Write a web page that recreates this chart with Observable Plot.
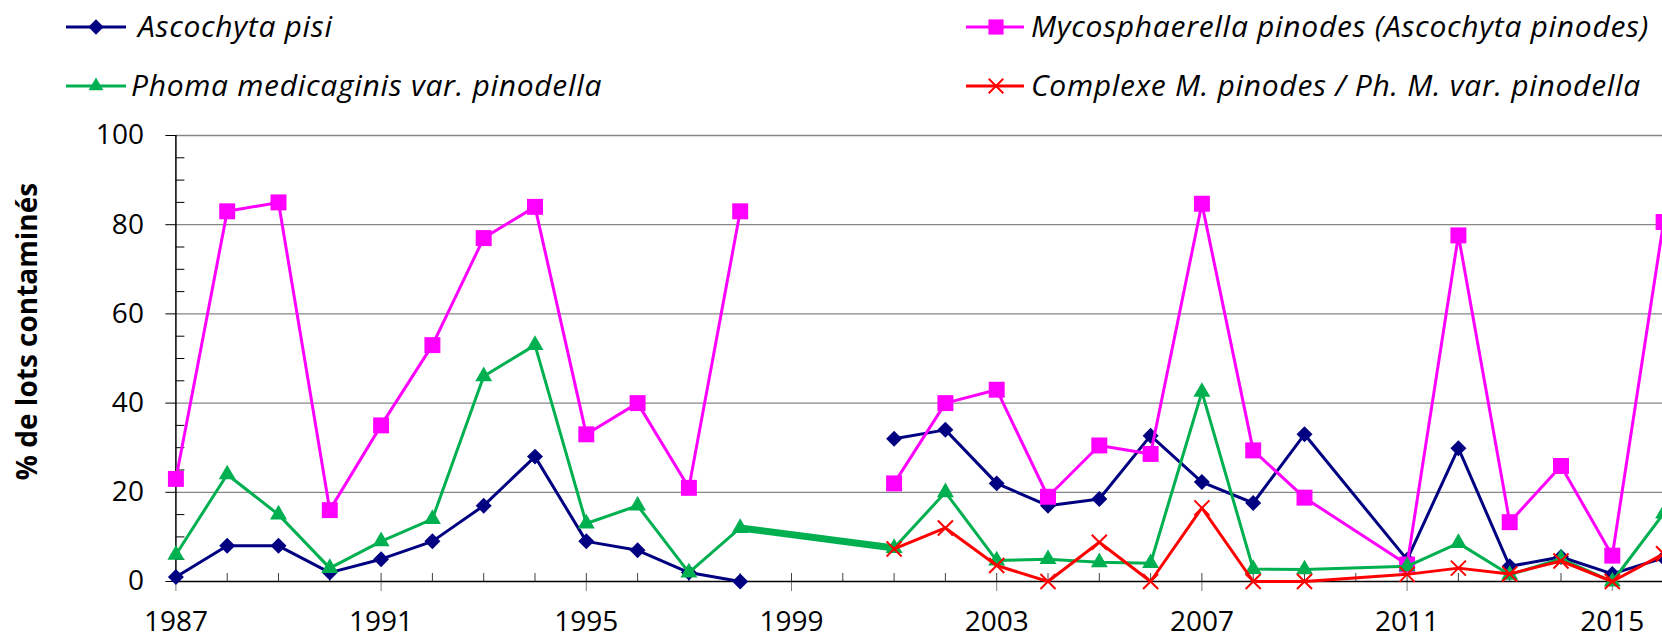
<!DOCTYPE html>
<html><head><meta charset="utf-8">
<script src="https://cdn.jsdelivr.net/npm/d3@7"></script>
<script src="https://cdn.jsdelivr.net/npm/@observablehq/plot@0.6"></script>
<style>
html,body{margin:0;padding:0;background:#fff;overflow:hidden;width:1662px;height:639px}
#legend svg,#chart svg{display:block}
#chart svg{max-width:none !important}
</style></head><body>
<div id="legend"></div><div id="chart"></div>
<script>
// ---- data ----
const years = [1987,1988,1989,1990,1991,1992,1993,1994,1995,1996,1997,1998,1999,2000,2001,2002,2003,2004,2005,2006,2007,2008,2009,2011,2012,2013,2014,2015,2016];
const ascochytaPisi =   [1,8,8,2,5,9,17,28,9,7,2,0,null,null,32,34,22,17,18.5,32.7,22.3,17.6,33,4.9,29.9,3.4,5.5,1.7,5.3];
const mycosphaerella =  [23,83,85,16,35,53,77,84,33,40,21,83,null,null,22,40,43,19,30.5,28.6,84.7,29.4,18.8,3.8,77.6,13.3,25.9,5.8,80.6];
const phoma =           [6,24,15,3,9,14,46,53,13,17,2,12,null,null,7.5,20,4.7,5,4.3,4.1,42.5,2.8,2.7,3.4,8.6,1.5,5.1,0,15.2];
const complexe =        [null,null,null,null,null,null,null,null,null,null,null,null,null,null,7.3,12,3.6,0,8.8,0,16.5,0,0,1.6,3,1.7,4.6,0,6.2];
const bridgeYears = [1998, 2001]; // green series drawn as a thick segment across the missing years
const seriesNames = ["Ascochyta pisi", "Mycosphaerella pinodes (Ascochyta pinodes)", "Phoma medicaginis var. pinodella", "Complexe M. pinodes / Ph. M. var. pinodella"];
const seriesColors = ["#000080", "#FF00FF", "#00B050", "#FF0000"];
const yTicks = [0, 20, 40, 60, 80, 100];
const yMinorTicks = [5,10,15,25,30,35,45,50,55,65,70,75,85,90,95];
const xTickLabels = [1987, 1991, 1995, 1999, 2003, 2007, 2011, 2015];
const xAllTicks = d3.range(1987, 2017);
const yTitle = "% de lots contaminés";

const toRows = (name, values) => years.map((year, i) => ({year, value: values[i], series: name}));
const blue = toRows(seriesNames[0], ascochytaPisi);
const pink = toRows(seriesNames[1], mycosphaerella);
const green = toRows(seriesNames[2], phoma);
const red = toRows(seriesNames[3], complexe);
const greenBridge = green.filter(d => bridgeYears.includes(d.year));

const FONT = "'Open Sans', sans-serif";

// ---- legend ----
const leg = d3.select("#legend").append("svg").attr("width", 1662).attr("height", 115);
const legendItems = [
  {i: 0, x1: 66, x2: 126, mx: 96, y: 27, tx: 138, sym: d3.symbolDiamond2, size: 150, fill: true},
  {i: 1, x1: 966, x2: 1024, mx: 996, y: 27, tx: 1031, sym: d3.symbolSquare, size: 230, fill: true},
  {i: 2, x1: 66, x2: 126, mx: 96, y: 86, tx: 131, sym: d3.symbolTriangle, size: 95, fill: true},
  {i: 3, x1: 966, x2: 1024, mx: 996, y: 86, tx: 1031, sym: d3.symbolTimes, size: 140, fill: false}
];
for (const it of legendItems) {
  const c = seriesColors[it.i];
  leg.append("line").attr("x1", it.x1).attr("x2", it.x2).attr("y1", it.y).attr("y2", it.y)
    .attr("stroke", c).attr("stroke-width", 3);
  leg.append("path").attr("d", d3.symbol(it.sym, it.size)())
    .attr("transform", `translate(${it.mx},${it.y})`)
    .attr("fill", it.fill ? c : "none").attr("stroke", it.fill ? "none" : c).attr("stroke-width", 2);
  leg.append("text").attr("x", it.tx).attr("y", it.y + 10)
    .attr("font-family", FONT).attr("font-style", "italic").attr("font-size", 30)
    .attr("letter-spacing", "0.7px").attr("fill", "#000")
    .text(seriesNames[it.i]);
}

// ---- chart ----
const lineOpts = (color) => ({x: "year", y: "value", stroke: color, strokeWidth: 3});
const chart = Plot.plot({
  width: 1716, height: 524,
  marginTop: 20, marginBottom: 58, marginLeft: 175.4, marginRight: 1.6,
  style: {fontFamily: FONT, fontSize: "28px", color: "#000", background: "#fff", overflow: "visible"},
  x: {domain: [1987, 2017], label: null},
  y: {domain: [0, 100], label: null},
  marks: [
    Plot.gridY(yTicks.filter(d => d > 0), {stroke: "#868686", strokeOpacity: 1, strokeWidth: 1.3}),
    Plot.axisY({ticks: yTicks, tickSize: 10, tickPadding: 22, label: null, stroke: "#000", tickFormat: d => String(d)}),
    Plot.axisY({ticks: yMinorTicks, tickSize: -9, label: null, stroke: "#000", tickFormat: () => ""}),
    Plot.axisX({ticks: xTickLabels, tickSize: 10, tickPadding: 20, label: null, stroke: "#808080", tickFormat: d => String(d)}),
    Plot.axisX({ticks: xAllTicks, tickSize: -8, label: null, stroke: "#404040", tickFormat: () => ""}),
    Plot.ruleY([0], {stroke: "#000", strokeWidth: 1.5}),
    Plot.ruleX([1987], {stroke: "#000", strokeWidth: 1.5}),
    Plot.text([yTitle], {frameAnchor: "left", textAnchor: "middle", lineAnchor: "middle", dx: -148, dy: -27, rotate: -90, fontWeight: "bold", fontSize: 28, fill: "#000"}),
    Plot.line(blue, lineOpts(seriesColors[0])),
    Plot.dot(blue, {x: "year", y: "value", symbol: "diamond2", fill: seriesColors[0], stroke: null, r: 7.2}),
    Plot.line(pink, lineOpts(seriesColors[1])),
    Plot.dot(pink, {x: "year", y: "value", symbol: "square", fill: seriesColors[1], stroke: null, r: 9}),
    Plot.line(greenBridge, {x: "year", y: "value", stroke: seriesColors[2], strokeWidth: 7}),
    Plot.line(green, lineOpts(seriesColors[2])),
    Plot.dot(green, {x: "year", y: "value", symbol: "triangle", fill: seriesColors[2], stroke: null, r: 6.3}),
    Plot.line(red, lineOpts(seriesColors[3])),
    Plot.dot(red, {x: "year", y: "value", symbol: "times", stroke: seriesColors[3], strokeWidth: 2, r: 6.9})
  ]
});
chart.style.maxWidth = "none";
document.getElementById("chart").append(chart);
</script>
</body></html>
